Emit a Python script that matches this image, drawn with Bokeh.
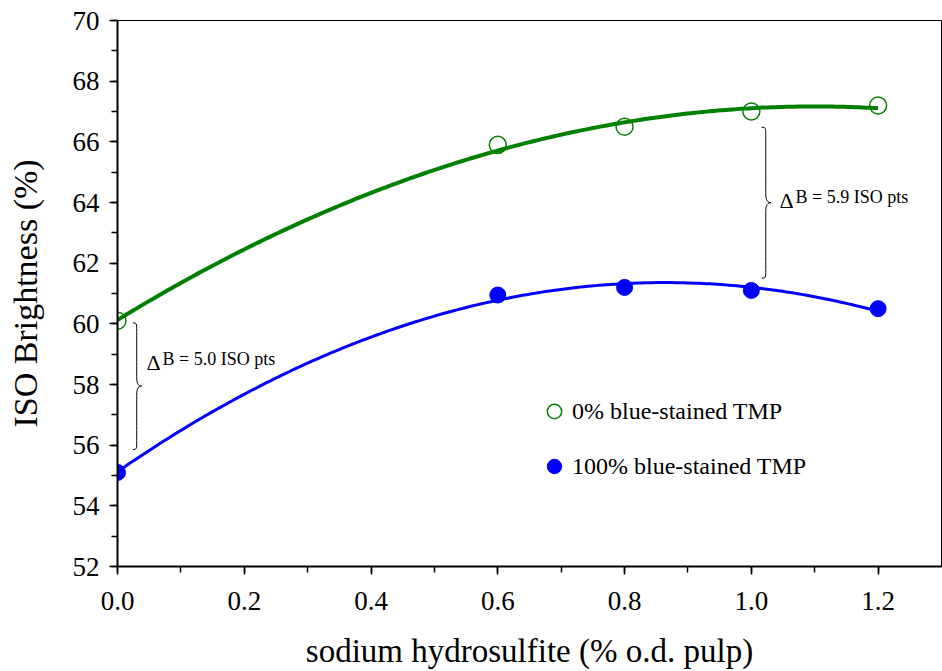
import numpy as np
from bokeh.plotting import figure
from bokeh.models import (Range1d, SingleIntervalTicker, PrintfTickFormatter,
                          Legend, LegendItem, ColumnDataSource)
from bokeh.embed import file_html
from bokeh.resources import INLINE
from bokeh.core.properties import value

# Sodium hydrosulfite charge (% o.d. pulp) and ISO brightness (%)
dose = [0.0, 0.6, 0.8, 1.0, 1.2]
brightness_0pct = [60.1, 65.9, 66.5, 67.0, 67.2]      # 0% blue-stained TMP
brightness_100pct = [55.1, 60.95, 61.2, 61.1, 60.5]   # 100% blue-stained TMP

series_labels = ["0% blue-stained TMP", "100% blue-stained TMP"]

# Doses at which the brightness gap is annotated
gap_doses = [0.0, 1.0]

FONT = "Liberation Serif"
GREEN = "#008000"
BLUE = "#0000FF"

p = figure(width=942, height=671, output_backend="svg", toolbar_location=None,
           x_range=Range1d(0, 1.3), y_range=Range1d(52, 70),
           min_border_left=117, min_border_right=1, min_border_top=20,
           min_border_bottom=104)
p.background_fill_color = "white"
p.border_fill_color = "white"
p.outline_line_color = "black"
p.outline_line_width = 1
p.xgrid.visible = False
p.ygrid.visible = False

# Axes
p.xaxis.ticker = SingleIntervalTicker(interval=0.2, num_minor_ticks=2)
p.yaxis.ticker = SingleIntervalTicker(interval=2, num_minor_ticks=2)
p.xaxis.formatter = PrintfTickFormatter(format="%.1f")
p.xaxis.axis_label = "sodium hydrosulfite (% o.d. pulp)"
p.yaxis.axis_label = "ISO Brightness (%)"
for ax in (p.xaxis, p.yaxis):
    ax.axis_line_width = 2
    ax.axis_line_color = "black"
    ax.major_tick_line_width = 1.5
    ax.minor_tick_line_width = 1.5
    ax.major_tick_in = 0
    ax.major_tick_out = 8
    ax.minor_tick_in = 0
    ax.minor_tick_out = 6
    ax.major_label_text_font = FONT
    ax.major_label_text_font_size = "27px"
    ax.major_label_text_color = "black"
    ax.axis_label_text_font = FONT
    ax.axis_label_text_font_style = "normal"
    ax.axis_label_text_color = "black"
p.xaxis.major_label_standoff = 17
p.yaxis.major_label_standoff = 10
p.xaxis.axis_label_text_font_size = "33px"
p.yaxis.axis_label_text_font_size = "34px"
p.xaxis.axis_label_standoff = 20
p.yaxis.axis_label_standoff = 26

# Quadratic regression curves through each series
xs = np.linspace(0.0, 1.2, 200)
fit0 = np.polyval(np.polyfit(dose, brightness_0pct, 2), xs)
fit100 = np.polyval(np.polyfit(dose, brightness_100pct, 2), xs)
p.line(xs, fit0, line_color=GREEN, line_width=4)
p.line(xs, fit100, line_color=BLUE, line_width=3)

r0 = p.scatter(dose, brightness_0pct, marker="circle", size=17,
               fill_color=None, line_color=GREEN, line_width=1.5)
r100 = p.scatter(dose, brightness_100pct, marker="circle", size=16,
                 fill_color=BLUE, line_color=BLUE)

# Curly braces marking the brightness gap
def brace(xl, xt, yt, yb, r, rt):
    xm = xl + (xt - xl) * 0.45
    yc = (yt + yb) / 2
    segs = []
    # top curl
    segs.append((xl, yt, xm, yt - r, xm, yt, xm, yt))
    # upper straight
    segs.append((xm, yt - r, xm, yc + rt, xm, yt - r, xm, yc + rt))
    # upper half of tip
    segs.append((xm, yc + rt, xt, yc, xm, yc + rt * 0.2, xm + (xt - xm) * 0.4, yc))
    # lower half of tip
    segs.append((xt, yc, xm, yc - rt, xm + (xt - xm) * 0.4, yc, xm, yc - rt * 0.2))
    # lower straight
    segs.append((xm, yc - rt, xm, yb + r, xm, yc - rt, xm, yb + r))
    # bottom curl
    segs.append((xm, yb + r, xl, yb, xm, yb, xm, yb))
    return segs

brace_specs = [
    (0.024, 0.038, 60.03, 55.86),
    (1.016, 1.031, 66.48, 61.51),
]
segments = []
for xl, xt, yt, yb in brace_specs:
    segments += brace(xl, xt, yt, yb, 0.27, 0.3)
seg = np.array(segments).T
p.bezier(x0=seg[0], y0=seg[1], x1=seg[2], y1=seg[3],
         cx0=seg[4], cy0=seg[5], cx1=seg[6], cy1=seg[7],
         line_color="black", line_width=1)

# Gap labels computed from the series
gap_text = []
for d in gap_doses:
    i = dose.index(d)
    gap = brightness_0pct[i] - brightness_100pct[i]
    gap_text.append(f"B = {gap:.1f} ISO pts")
ann = ColumnDataSource(dict(x=[0.0458, 1.0445], y=[58.83, 64.18], text=gap_text,
                            delta=["Δ", "Δ"]))
p.text(x="x", y="y", text="delta", source=ann, text_font=value(FONT),
       text_font_size="22px", text_color="black", text_align="left",
       text_baseline="middle", y_offset=3)
p.text(x="x", y="y", text="text", source=ann, text_font=value(FONT),
       text_font_size="18px", text_color="black", text_align="left",
       text_baseline="middle", x_offset=16)

legend = Legend(items=[LegendItem(label=series_labels[0], renderers=[r0]),
                       LegendItem(label=series_labels[1], renderers=[r100])],
                location=(419, 82), orientation="vertical",
                glyph_width=36, glyph_height=36, label_standoff=0,
                spacing=19, padding=0, margin=0,
                border_line_color=None, background_fill_alpha=0,
                label_text_font=FONT, label_text_font_size="24px",
                label_text_color="black")
p.add_layout(legend)

open("out.html", "w").write(file_html(p, INLINE))
